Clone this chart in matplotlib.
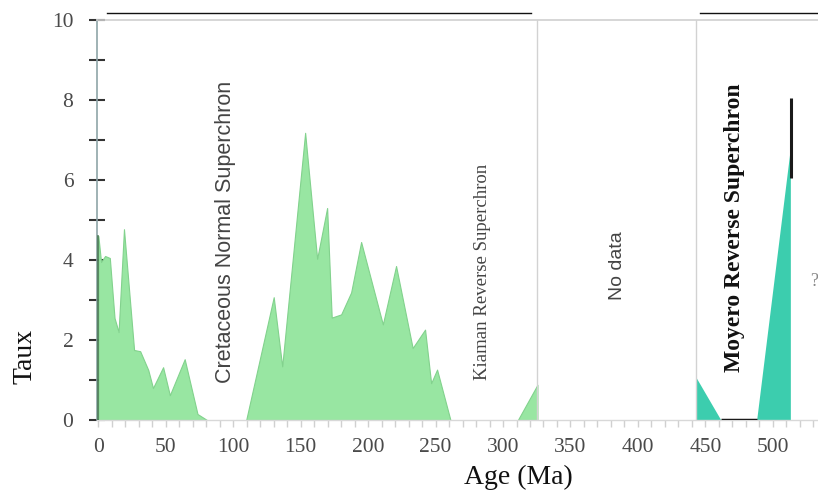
import matplotlib
matplotlib.use("Agg")
import matplotlib.pyplot as plt
from matplotlib.ticker import MultipleLocator
from matplotlib.lines import Line2D

# ---- data ----
ages_a = [0, 2, 5, 8.5, 12, 15, 19, 26.5, 31, 37, 40.5, 48, 53, 64, 73.5, 80.5]
rate_a = [4.6, 3.95, 4.1, 4.05, 2.55, 2.2, 4.77, 1.75, 1.72, 1.25, 0.8, 1.32, 0.62, 1.52, 0.15, 0]

ages_b = [109.6, 130, 136.3, 153.3, 162.2, 169.6, 173, 180, 187.4, 194.8, 210.9, 220.7, 233, 242.2, 246.7, 251.1, 261]
rate_b = [0, 3.07, 1.34, 7.18, 4.03, 5.3, 2.56, 2.64, 3.19, 4.45, 2.39, 3.85, 1.8, 2.26, 0.92, 1.26, 0]

ages_c = [311, 325.5]
rate_c = [0, 0.88]

ages_d = [443, 461.5]
rate_d = [1.07, 0]

ages_e = [488, 513]
rate_e = [0, 6.8]

zero_ages = [461.5, 488]
range_age = 513.3
range_vals = [6.05, 8.05]

boundaries = [325.5, 443]

labels = [
    ("Cretaceous Normal Superchron", 94, 4.7),
    ("Kiaman Reverse Superchron", 285, 3.7),
    ("No data", 385, 3.85),
    ("Moyero Reverse Superchron", 471.5, 4.8),
]

x_ticks = [0, 50, 100, 150, 200, 250, 300, 350, 400, 450, 500]
y_ticks = [0, 2, 4, 6, 8, 10]

# ---- figure ----
fig = plt.figure(figsize=(8.18, 4.96), dpi=100)
ax = fig.add_axes([97 / 818, 76 / 496, (818 - 97) / 818, 400 / 496])

green = "#98e6a2"
green_edge = "#82d28d"
teal = "#3ccdae"

ax.fill_between(ages_a, rate_a, 0, color=green, edgecolor=green_edge, linewidth=0.8, zorder=2)
ax.fill_between(ages_b, rate_b, 0, color=green, edgecolor=green_edge, linewidth=0.8, zorder=2)
ax.fill_between(ages_c, rate_c, 0, color=green, edgecolor=green_edge, linewidth=0.8, zorder=2)
ax.fill_between(ages_d, rate_d, 0, color=teal, linewidth=0, zorder=2)
ax.fill_between(ages_e, rate_e, 0, color=teal, linewidth=0, zorder=2)
ax.plot(zero_ages, [0, 0], color="#1a1a1a", linewidth=2.5, zorder=3, solid_capstyle="butt")
ax.plot([range_age, range_age], range_vals, color="#1a1a1a", linewidth=2.2, zorder=3, solid_capstyle="butt")
ax.plot([0, 0], [0, rate_a[0]], color="#4a7a55", linewidth=1.2, zorder=3)

for b in boundaries:
    ax.axvline(b, color="#d2d2d2", linewidth=1.0, zorder=4)

ax.set_xlim(-1, 533.5)
ax.set_ylim(0, 10)

serif = "Liberation Serif"
sans = "Liberation Sans"

ax.text(labels[0][1], labels[0][2], labels[0][0], rotation=90, ha="center", va="center",
        fontsize=15.5, family=sans, color="#444444", zorder=5)
ax.text(labels[1][1], labels[1][2], labels[1][0], rotation=90, ha="center", va="center",
        fontsize=13.5, family=serif, color="#444444", zorder=5)
ax.text(labels[2][1], labels[2][2], labels[2][0], rotation=90, ha="center", va="center",
        fontsize=14, family=sans, color="#444444", zorder=5)
ax.text(labels[3][1], labels[3][2], labels[3][0], rotation=90, ha="center", va="center",
        fontsize=17, family=serif, fontweight="bold", color="#111111", zorder=5)
ax.text(527.5, 3.45, "?", ha="left", va="center", fontsize=13, family=serif, color="#888888",
        zorder=5)

# spines
ax.spines["right"].set_visible(False)
ax.spines["top"].set_color("#cfcfcf")
ax.spines["top"].set_linewidth(1.2)
ax.spines["bottom"].set_color("#d8d8d8")
ax.spines["bottom"].set_linewidth(1.0)
ax.spines["left"].set_color("#8fa5a8")
ax.spines["left"].set_linewidth(1.2)

ax.set_xticks(x_ticks)
ax.set_yticks(y_ticks)
ax.xaxis.set_minor_locator(MultipleLocator(10))
ax.yaxis.set_minor_locator(MultipleLocator(1))
ax.tick_params(axis="y", which="both", direction="inout", length=12, width=1.5, color="#333333",
               pad=11, labelsize=15.5, labelcolor="#4a4a4a")
ax.tick_params(axis="x", which="both", direction="out", length=5, width=1.0, color="#d0d0d0",
               pad=8, labelsize=15.5, labelcolor="#4a4a4a")
for lab in ax.get_xticklabels() + ax.get_yticklabels():
    lab.set_family(serif)

ax.set_xlabel("Age (Ma)", fontsize=20, family=serif, color="#111111")
ax.set_ylabel("Taux", fontsize=20, family=serif, color="#111111")
ax.xaxis.set_label_coords(0.585, -0.112)
ax.yaxis.set_label_coords(-0.082, 0.16)

# thin dark lines along the top edge of the image
fig.add_artist(Line2D([107 / 818, 531 / 818], [1 - 13 / 496] * 2, color="#111111", linewidth=1.0))
fig.add_artist(Line2D([700 / 818, 1.0], [1 - 13 / 496] * 2, color="#111111", linewidth=1.0))

fig.savefig("out.png", dpi=100)
